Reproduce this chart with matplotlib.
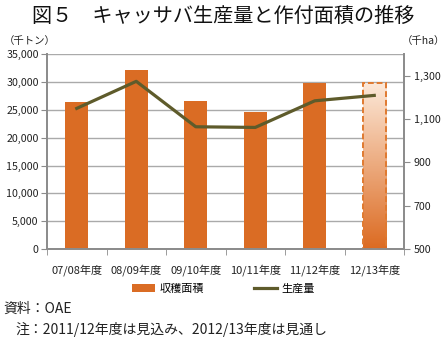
import matplotlib
matplotlib.use("Agg")
import matplotlib.pyplot as plt
import numpy as np
from matplotlib.patches import Rectangle, Patch
from matplotlib.lines import Line2D

plt.rcParams['font.family'] = ['Noto Sans CJK JP', 'DejaVu Sans']

# data
seasons = ['07/08年度', '08/09年度', '09/10年度', '10/11年度', '11/12年度', '12/13年度']
bar_vals = [26500, 32200, 26600, 24700, 29800, 29800]   # left axis (千トン)
line_vals = [1150, 1275, 1065, 1062, 1185, 1210]       # right axis (千ha)
bar_label = '収穫面積'
line_label = '生産量'
left_ticks = [0, 5000, 10000, 15000, 20000, 25000, 30000, 35000]
right_ticks = [500, 700, 900, 1100, 1300]

orange = '#DA6C24'
olive = '#5E5B2B'
grey = '#8C8C8C'

fig = plt.figure(figsize=(4.47, 3.44), dpi=100)
ax = fig.add_axes([47 / 447, 1 - 249 / 344, 357 / 447, 194.7 / 344])
ax2 = ax.twinx()

x = np.arange(len(seasons))
w = 0.39
bars = ax.bar(x[:-1], bar_vals[:-1], width=w, color=orange, zorder=2)

# last bar: gradient fill with dashed edge
xl = x[-1] - w / 2
rect = Rectangle((xl, 0), w, bar_vals[-1], facecolor='none', edgecolor='#E07A30',
                 linestyle=(0, (3, 1.5)), linewidth=1.4, zorder=4)
ax.add_patch(rect)
top_c = np.array([0xFC, 0xE8, 0xD8]) / 255
bot_c = np.array([0xDC, 0x6B, 0x22]) / 255
t = np.linspace(0, 1, 100)[:, None]
grad = (bot_c * (1 - t) + top_c * t)[:, None, :]
im = ax.imshow(grad, extent=[xl, xl + w, 0, bar_vals[-1]], origin='lower',
               aspect='auto', zorder=3)
im.set_clip_path(Rectangle((xl, 0), w, bar_vals[-1], transform=ax.transData))

ax2.plot(x, line_vals, color=olive, linewidth=2.3, zorder=5)

ax.set_xlim(-0.5, len(seasons) - 0.5)
ax.set_ylim(0, 35000)
ax2.set_ylim(500, 1400)

ax.set_yticks(left_ticks)
ax.set_yticklabels([f'{v:,}' for v in left_ticks])
ax2.set_yticks(right_ticks)
ax2.set_yticklabels([f'{v:,}' for v in right_ticks])

# labels at centres, tick marks at category boundaries
ax.set_xticks(x)
ax.set_xticklabels(seasons)
ax.set_xticks(np.arange(len(seasons) + 1) - 0.5, minor=True)
ax.tick_params(axis='x', which='major', length=0, pad=11, labelsize=8, colors='#222222')
ax.tick_params(axis='x', which='minor', length=4, color=grey, direction='out')
ax.tick_params(axis='y', length=4, color=grey, pad=2, labelsize=7.7, labelcolor='#222222')
ax2.tick_params(axis='y', length=4, color=grey, pad=3, labelsize=7.7, labelcolor='#222222')

ax.yaxis.grid(True, color='#AAAAAA', linewidth=1.0, zorder=0)
ax.set_axisbelow(True)
for a in (ax, ax2):
    for s in a.spines.values():
        s.set_color(grey)
        s.set_linewidth(1.3)
    a.spines['top'].set_visible(False)

fig.text(0.5, 1 - 16 / 344, '図５　キャッサバ生産量と作付面積の推移', ha='center', va='center',
         fontsize=14.5, color='#111111')
fig.text(4 / 447, 1 - 41 / 344, '（千トン）', ha='left', va='center', fontsize=7.5, color='#222222')
fig.text(445 / 447, 1 - 41 / 344, '（千ha）', ha='right', va='center', fontsize=7.5, color='#222222')

handles = [Patch(facecolor=orange, edgecolor='none'),
           Line2D([0], [0], color=olive, linewidth=2.3)]
fig.legend(handles, [bar_label, line_label], loc='center', bbox_to_anchor=(0.5, 1 - 289 / 344),
           ncol=2, frameon=False, fontsize=8, handlelength=2.1, handleheight=0.8,
           columnspacing=4.5, handletextpad=0.4)

fig.text(3 / 447, 1 - 309 / 344, '資料：OAE', ha='left', va='center', fontsize=10, color='#222222')
fig.text(15 / 447, 1 - 329 / 344, '注：2011/12年度は見込み、2012/13年度は見通し', ha='left', va='center',
         fontsize=10, color='#222222')

fig.savefig('out.png', dpi=100)
